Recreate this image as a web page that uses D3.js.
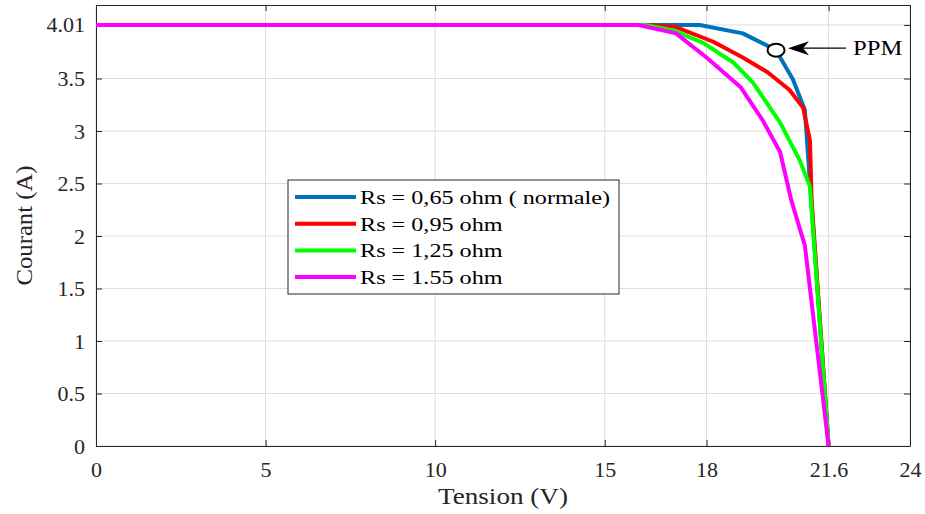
<!DOCTYPE html>
<html><head><meta charset="utf-8">
<script src="https://cdnjs.cloudflare.com/ajax/libs/d3/7.8.5/d3.min.js"></script>
<style>body{margin:0;background:#fff;}svg{display:block;}text{font-family:"Liberation Serif","Times New Roman",serif;}</style>
</head><body><svg id="c" width="925" height="514"></svg>
<script>
const xTicks = [0, 5, 10, 15, 18, 21.6, 24];
const yTicks = [0, 0.5, 1, 1.5, 2, 2.5, 3, 3.5, 4.01];
const seriesNames = ["Rs = 0,65 ohm ( normale)", "Rs = 0,95 ohm", "Rs = 1,25 ohm", "Rs = 1.55 ohm"];
const seriesColors = ["#0072BD", "#FF0000", "#00FF00", "#FF00FF"];
const vBlue = [0, 17.8, 19.07, 20.05, 20.55, 20.9, 21.6];
const iBlue = [4.01, 4.01, 3.93, 3.77, 3.49, 3.2, 0];
const vRed = [0, 16.3, 17.1, 18.2, 19.07, 19.8, 20.45, 20.85, 21.05, 21.1, 21.6];
const iRed = [4.01, 4.01, 3.99, 3.85, 3.7, 3.56, 3.39, 3.22, 2.91, 2.34, 0];
const vGreen = [0, 16.2, 17.0, 17.9, 18.8, 19.37, 20.17, 20.75, 21.05, 21.6];
const iGreen = [4.01, 4.01, 3.96, 3.84, 3.65, 3.46, 3.08, 2.72, 2.47, 0];
const vMag = [0, 16.0, 17.1, 18.0, 19.0, 19.66, 20.17, 20.5, 20.9, 21.6];
const iMag = [4.01, 4.01, 3.93, 3.7, 3.42, 3.1, 2.8, 2.34, 1.91, 0];
const ppm = {v: 20.05, i: 3.77, label: "PPM"};

const series = [[vBlue, iBlue], [vRed, iRed], [vGreen, iGreen], [vMag, iMag]]
  .map((s, k) => ({name: seriesNames[k], color: seriesColors[k], pts: s[0].map((v, j) => [v, s[1][j]])}));

const L = 96, R = 910, T = 5, B = 446;
const x = d3.scaleLinear().domain([0, 24]).range([L, R]);
const y = d3.scaleLinear().domain([0, 4.2]).range([B, T]);
const svg = d3.select("#c");
const axisCol = "#262626";

function stretch(sel, f) {
  sel.each(function() {
    const w = this.getComputedTextLength();
    d3.select(this).attr("textLength", w * f).attr("lengthAdjust", "spacingAndGlyphs");
  });
}

// grid
svg.append("g").selectAll("line").data(xTicks).join("line")
  .attr("x1", d => x(d)).attr("x2", d => x(d)).attr("y1", T).attr("y2", B)
  .attr("stroke", "#dedede").attr("stroke-width", 1);
svg.append("g").selectAll("line").data(yTicks).join("line")
  .attr("y1", d => y(d)).attr("y2", d => y(d)).attr("x1", L).attr("x2", R)
  .attr("stroke", "#dedede").attr("stroke-width", 1);

// axes
const xa = svg.append("g").attr("transform", `translate(0,${B})`)
  .call(d3.axisBottom(x).tickValues(xTicks).tickFormat(d => String(d)).tickSizeInner(-6).tickSizeOuter(0).tickPadding(15));
const ya = svg.append("g").attr("transform", `translate(${L},0)`)
  .call(d3.axisLeft(y).tickValues(yTicks).tickFormat(d => String(d)).tickSizeInner(-6).tickSizeOuter(0).tickPadding(11));
svg.append("g").attr("transform", `translate(0,${T})`)
  .call(d3.axisTop(x).tickValues(xTicks).tickFormat("").tickSizeInner(-6).tickSizeOuter(0));
svg.append("g").attr("transform", `translate(${R},0)`)
  .call(d3.axisRight(y).tickValues(yTicks).tickFormat("").tickSizeInner(-6).tickSizeOuter(0));
svg.selectAll(".domain").attr("stroke", axisCol);
svg.selectAll(".tick line").attr("stroke", axisCol);
xa.selectAll("text").attr("font-size", 22).attr("fill", axisCol);
ya.selectAll("text").attr("font-size", 22).attr("fill", axisCol);

// lines
const line = d3.line().x(d => x(d[0])).y(d => y(d[1]));
svg.append("g").selectAll("path").data(series).join("path")
  .attr("d", d => line(d.pts)).attr("fill", "none")
  .attr("stroke", d => d.color).attr("stroke-width", 4).attr("stroke-linejoin", "round");

// PPM annotation
const px = x(ppm.v), py = y(ppm.i);
svg.append("line").attr("x1", px + 70).attr("y1", py - 2).attr("x2", px + 25).attr("y2", py - 2)
  .attr("stroke", "#000").attr("stroke-width", 1.3);
svg.append("path").attr("d", `M${px + 12},${py - 2} L${px + 33},${py - 9} L${px + 27},${py - 2} L${px + 33},${py + 5} Z`)
  .attr("fill", "#000");
svg.append("ellipse").attr("cx", px).attr("cy", py).attr("rx", 8.5).attr("ry", 6.5)
  .attr("fill", "#fff").attr("stroke", "#000").attr("stroke-width", 2);
svg.append("text").attr("x", px + 77).attr("y", py + 5).attr("font-size", 22)
  .attr("fill", "#000").text(ppm.label).call(stretch, 1.12);

// legend
const lg = svg.append("g").attr("transform", "translate(288,180)");
lg.append("rect").attr("width", 331).attr("height", 114).attr("fill", "#fff")
  .attr("stroke", "#262626").attr("stroke-width", 1);
series.forEach((s, k) => {
  const yy = 17 + k * 26.7;
  lg.append("line").attr("x1", 7).attr("x2", 68).attr("y1", yy).attr("y2", yy)
    .attr("stroke", s.color).attr("stroke-width", 4);
  lg.append("text").attr("x", 72).attr("y", yy + 7).attr("font-size", 19.5).attr("fill", "#000")
    .text(s.name).call(stretch, 1.24);
});

// axis titles
svg.append("text").attr("x", (L + R) / 2).attr("y", 504).attr("text-anchor", "middle")
  .attr("font-size", 24).attr("fill", axisCol).text("Tension (V)").call(stretch, 1.13);
svg.append("text").attr("transform", `translate(32,${(T + B) / 2}) rotate(-90)`).attr("text-anchor", "middle")
  .attr("font-size", 24).attr("fill", axisCol).text("Courant (A)").call(stretch, 1.03);
</script></body></html>
